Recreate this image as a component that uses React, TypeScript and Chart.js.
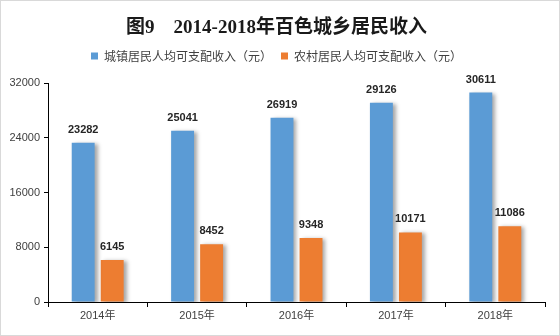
import React, { useEffect, useRef } from "react";
import { Chart, registerables } from "chart.js";

Chart.register(...registerables);

const title = "图9    2014-2018年百色城乡居民收入";
const categories = ["2014年", "2015年", "2016年", "2017年", "2018年"];
const urbanLabel = "城镇居民人均可支配收入（元）";
const ruralLabel = "农村居民人均可支配收入（元）";
const urbanIncome = [23282, 25041, 26919, 29126, 30611];
const ruralIncome = [6145, 8452, 9348, 10171, 11086];
const yTicks = [0, 8000, 16000, 24000, 32000];

const legendGapPlugin = {
  id: "legendGap",
  afterInit(chart: any) {
    const lg = chart.legend;
    if (!lg || lg.__patched) return;
    const orig = lg.fit.bind(lg);
    lg.fit = () => {
      orig();
      lg.height += 11;
    };
    lg.__patched = true;
  },
};

const shadowPlugin = {
  id: "barShadow",
  beforeDatasetsDraw(chart: any) {
    const ctx = chart.ctx;
    ctx.save();
    ctx.shadowColor = "rgba(0,0,0,0.35)";
    ctx.shadowBlur = 4;
    ctx.shadowOffsetX = 3;
    ctx.shadowOffsetY = 1;
  },
  afterDatasetsDraw(chart: any) {
    const ctx = chart.ctx;
    ctx.restore();
    ctx.save();
    ctx.font = "bold 11px 'Liberation Sans', Arial, sans-serif";
    ctx.fillStyle = "#262626";
    ctx.textAlign = "center";
    ctx.textBaseline = "alphabetic";
    chart.data.datasets.forEach((ds: any, i: number) => {
      const meta = chart.getDatasetMeta(i);
      meta.data.forEach((bar: any, j: number) => {
        ctx.fillText(String(ds.data[j]), bar.x, bar.y - 10);
      });
    });
    ctx.restore();
  },
};

export default function App() {
  const ref = useRef<HTMLCanvasElement | null>(null);
  useEffect(() => {
    if (!ref.current) return;
    const chart = new Chart(ref.current, {
      type: "bar",
      data: {
        labels: categories,
        datasets: [
          {
            label: urbanLabel,
            data: urbanIncome,
            backgroundColor: "#5B9BD5",
            categoryPercentage: 0.584,
            barPercentage: 0.79,
          },
          {
            label: ruralLabel,
            data: ruralIncome,
            backgroundColor: "#ED7D31",
            categoryPercentage: 0.584,
            barPercentage: 0.79,
          },
        ],
      },
      options: {
        animation: false,
        responsive: true,
        maintainAspectRatio: false,
        layout: { padding: { top: 4, left: 7, right: 14, bottom: 5 } },
        plugins: {
          title: {
            display: true,
            text: title,
            color: "#1a1a1a",
            font: { family: "'Liberation Serif', 'Noto Sans CJK SC', serif", size: 19, weight: "bold", lineHeight: 1 },
            padding: { top: 14, bottom: 3 },
          },
          legend: {
            display: true,
            labels: {
              boxWidth: 7,
              boxHeight: 7,
              color: "#404040",
              padding: 9,
              font: { family: "'Noto Sans CJK SC', sans-serif", size: 12 },
            },
          },
          tooltip: { enabled: false },
        },
        scales: {
          x: {
            grid: { display: true, offset: true, drawOnChartArea: false, tickLength: 5, color: "#000" },
            border: { display: true, color: "#000", width: 1 },
            ticks: {
              color: "#404040",
              font: { family: "'Liberation Sans', 'Noto Sans CJK SC', sans-serif", size: 11 },
              padding: 2,
            },
            afterFit: (s: any) => { s.height = 28; },
          },
          y: {
            min: 0,
            max: 32000,
            afterBuildTicks: (s: any) => { s.ticks = yTicks.map((v) => ({ value: v })); },
            grid: { display: true, drawOnChartArea: false, tickLength: 4, color: "#000" },
            border: { display: true, color: "#000", width: 1 },
            ticks: {
              color: "#404040",
              font: { family: "'Liberation Sans', sans-serif", size: 11 },
              padding: 4,
              callback: (v: any) => String(v),
            },
            afterFit: (s: any) => { s.width = 40; },
          },
        },
      },
      plugins: [legendGapPlugin, shadowPlugin],
    });
    return () => chart.destroy();
  }, []);
  return (
    <div
      style={{
        position: "absolute",
        left: 0,
        top: 0,
        width: 560,
        height: 336,
        boxSizing: "border-box",
        border: "1px solid #d9d9d9",
        background: "#fff",
      }}
    >
      <div style={{ position: "relative", width: 558, height: 334 }}>
        <canvas ref={ref} />
      </div>
    </div>
  );
}
